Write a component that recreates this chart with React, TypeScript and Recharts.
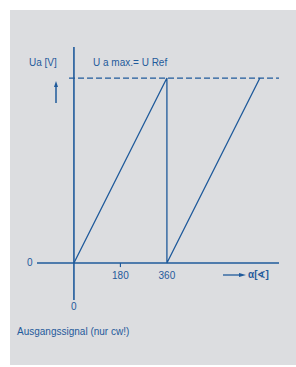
import React from "react"
import { ComposedChart, Line, XAxis, YAxis, ReferenceLine, ReferenceDot } from "recharts"

// output signal: ramp 0..360 deg, drop, ramp 360..720 deg
const angles = [0, 360, 360, 720]
const output = [0, 1, 0, 1]
const tickAngles = [180, 360]
const tickLabels = ["180", "360"]

const rows = angles.map((a, i) => ({ a, u: output[i] }))

const BLUE = "#1f5a9b"
const FONT = "'Liberation Sans', Arial, sans-serif"

const txt = (x: number, y: number, s: string, extra: React.CSSProperties = {}) => (
  <div
    style={{
      position: "absolute",
      left: x,
      top: y,
      fontFamily: FONT,
      fontSize: 10,
      lineHeight: "12px",
      color: BLUE,
      whiteSpace: "nowrap",
      ...extra,
    }}
  >
    {s}
  </div>
)

export default function App() {
  return (
    <div style={{ position: "absolute", left: 0, top: 0, width: 296, height: 367, background: "#fff" }}>
      <div style={{ position: "absolute", left: 10, top: 10, width: 286, height: 355, background: "#dcdde0" }} />
      <div style={{ position: "absolute", left: 0, top: 0 }}>
        <ComposedChart width={296} height={367} data={rows} margin={{ top: 47, right: 17, bottom: 67, left: 37 }}>
          <XAxis dataKey="a" type="number" domain={[-143, 794]} hide />
          <YAxis type="number" domain={[-0.2, 1.168]} hide />
          <ReferenceLine x={0} stroke={BLUE} strokeWidth={1.6} />
          <ReferenceLine y={0} stroke={BLUE} strokeWidth={1.6} />
          <ReferenceLine
            segment={[{ x: -19, y: 1 }, { x: 794, y: 1 }]}
            stroke={BLUE}
            strokeWidth={1.2}
            strokeDasharray="6 3"
          />
          <ReferenceLine segment={[{ x: 180, y: 0 }, { x: 180, y: -0.022 }]} stroke={BLUE} strokeWidth={1.2} />
          {tickAngles.map((t, i) => (
            <ReferenceDot
              key={t}
              x={t}
              y={0}
              r={0}
              stroke="none"
              fill="none"
              label={{ value: tickLabels[i], position: "bottom", offset: 9, fill: BLUE, fontSize: 10, fontFamily: FONT }}
            />
          ))}
          <Line
            type="linear"
            dataKey="u"
            stroke={BLUE}
            strokeWidth={1.3}
            dot={false}
            isAnimationActive={false}
          />
        </ComposedChart>
      </div>
      {txt(29, 57, "Ua [V]")}
      {txt(93, 57, "U a max.= U Ref")}
      {txt(27, 257, "0")}
      {txt(71, 301, "0")}
      {txt(248, 269, "α[∢]", { fontWeight: "bold" })}
      {txt(17, 326, "Ausgangssignal (nur cw!)")}
      <svg style={{ position: "absolute", left: 0, top: 0 }} width={296} height={367}>
        <line x1={56} y1={103} x2={56} y2={86} stroke={BLUE} strokeWidth={1.5} />
        <polygon points="56,81 54,87 58,87" fill={BLUE} />
        <line x1={223} y1={275} x2={240} y2={275} stroke={BLUE} strokeWidth={1.3} />
        <polygon points="246,275 239,273 239,277" fill={BLUE} />
      </svg>
    </div>
  )
}
